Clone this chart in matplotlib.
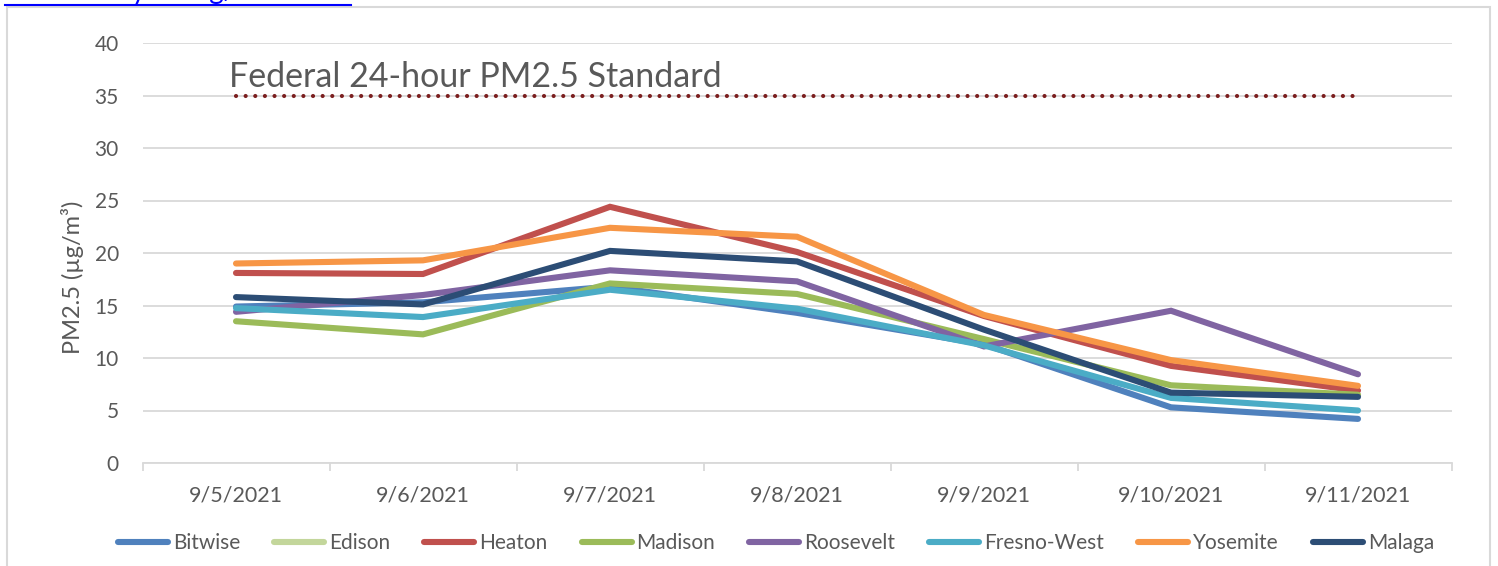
import matplotlib
matplotlib.use("Agg")
import matplotlib.pyplot as plt
import numpy as np
from matplotlib.patches import Rectangle
from matplotlib.lines import Line2D

plt.rcParams['font.family'] = ['Lato', 'DejaVu Sans']

dates = ["9/5/2021", "9/6/2021", "9/7/2021", "9/8/2021", "9/9/2021", "9/10/2021", "9/11/2021"]

bitwise = [14.9, 15.3, 16.8, 14.3, 11.3, 5.3, 4.2]
edison = [np.nan] * 7
heaton = [18.1, 18.0, 24.4, 20.1, 14.0, 9.25, 6.9]
madison = [13.5, 12.25, 17.1, 16.1, 11.8, 7.4, 6.5]
roosevelt = [14.4, 16.0, 18.35, 17.3, 11.1, 14.5, 8.45]
fresno_west = [14.75, 13.9, 16.5, 14.7, 11.2, 6.2, 5.0]
yosemite = [19.0, 19.3, 22.4, 21.55, 14.1, 9.8, 7.35]
malaga = [15.8, 15.1, 20.2, 19.2, 12.7, 6.7, 6.3]

series_names = ["Bitwise", "Edison", "Heaton", "Madison", "Roosevelt", "Fresno-West", "Yosemite", "Malaga"]
series_values = [bitwise, edison, heaton, madison, roosevelt, fresno_west, yosemite, malaga]
series_colors = ["#4F81BD", "#C3D69B", "#C0504D", "#9BBB59", "#8064A2", "#4BACC6", "#F79646", "#2C4D75"]

standard_value = 35
standard_label = "Federal 24-hour PM2.5 Standard"
y_ticks = [0, 5, 10, 15, 20, 25, 30, 35, 40]

W, H = 1498, 566
fig = plt.figure(figsize=(W / 100, H / 100), dpi=100)

# chart border
fig.patches.append(Rectangle((7 / W, -0.1), (1490 - 7) / W, 1.1 - 7 / H, transform=fig.transFigure,
                             fill=False, edgecolor="#D9D9D9", linewidth=1.5))
# link text at top, clipped by the figure edge as in the reference
fig.text(5 / W, 1 + 1.5 / H, "www.valleyair.org/wildfires", color="#0000FF", fontsize=20,
         ha="left", va="baseline", transform=fig.transFigure)
fig.lines.append(Line2D([5 / W, 351 / W], [1 - 4.5 / H, 1 - 4.5 / H], transform=fig.transFigure,
                        color="#0000FF", linewidth=1.5))

ax = fig.add_axes([142.5 / W, 1 - 463 / H, (1451.5 - 142.5) / W, (463 - 43) / H])
x = np.arange(len(dates))

grid_c = "#D9D9D9"
text_c = "#595959"

for name, vals, col in zip(series_names, series_values, series_colors):
    ax.plot(x, vals, color=col, linewidth=4.4, label=name, solid_capstyle="round",
            solid_joinstyle="miter")

ax.plot([x[0], x[-1]], [standard_value, standard_value], color="#7B1F1F", linewidth=3,
        linestyle=(0, (0.01, 2.3)), dash_capstyle="round")
ax.text(-0.04, 35.8, standard_label, fontsize=24.5, color=text_c, ha="left", va="baseline")

ax.set_xlim(-0.5, len(dates) - 0.5)
ax.set_ylim(0, 40)
ax.set_yticks(y_ticks)
ax.set_yticklabels([str(v) for v in y_ticks])
ax.yaxis.grid(True, color=grid_c, linewidth=1.3)
ax.set_axisbelow(True)
for s in ["top", "right", "left"]:
    ax.spines[s].set_visible(False)
ax.spines["bottom"].set_color(grid_c)
ax.spines["bottom"].set_linewidth(1.3)

ax.set_xticks(x)
ax.set_xticklabels(dates)
ax.set_xticks(np.arange(-0.5, len(dates)), minor=True)
ax.tick_params(axis="x", which="major", length=0, pad=16, labelsize=15.5, labelcolor=text_c)
ax.tick_params(axis="x", which="minor", length=6, width=1.3, color=grid_c, direction="out")
ax.tick_params(axis="y", length=0, pad=17, labelsize=15, labelcolor=text_c)

ax.set_ylabel("PM2.5 (µg/m³)", fontsize=17, color=text_c)
ax.yaxis.set_label_coords(-59 / (1451.5 - 142.5), (463 - 277) / (463 - 43))

handles, labels = ax.get_legend_handles_labels()
leg = fig.legend(handles, labels, loc="center", bbox_to_anchor=(776 / W, 1 - 543 / H), ncol=8,
                 frameon=False, fontsize=15, handlelength=2.4, handletextpad=0.24,
                 columnspacing=1.63, labelcolor=text_c)

fig.savefig("out.png", dpi=100)
